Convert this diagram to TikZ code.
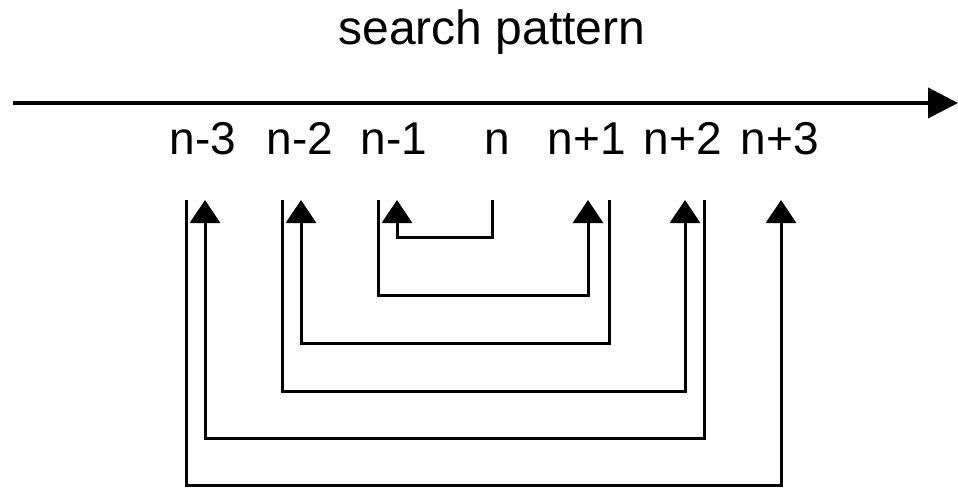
\documentclass[tikz,border=0pt]{standalone}
\usepackage{fontspec}
\setmainfont{Liberation Sans}
\usetikzlibrary{arrows.meta}
\begin{document}
\begin{tikzpicture}[x=1pt,y=-1pt,
  lbl/.style={anchor=base,inner sep=0pt,font=\fontsize{46}{55}\selectfont},
  ttl/.style={anchor=base,inner sep=0pt,font=\fontsize{48}{58}\selectfont},
  axis/.style={line width=4pt,-{Triangle[length=30pt,width=30pt]}},
  brk/.style={line width=3pt,line join=miter,-{Triangle[length=23pt,width=30pt]}}]
\useasboundingbox (0,0) rectangle (958,489);
% title and axis
\node[ttl] (title) at (492,45) {search pattern};
\coordinate (axL) at (13,103);
\coordinate (axR) at (958,103);
\draw[axis] (axL) -- (axR);
% labels
\node[lbl] (m3) at (203,155) {n-3};
\node[lbl] (m2) at (300,155) {n-2};
\node[lbl] (m1) at (394,155) {n-1};
\node[lbl] (n0) at (497,155) {n};
\node[lbl] (p1) at (587,155) {n+1};
\node[lbl] (p2) at (683,155) {n+2};
\node[lbl] (p3) at (780,155) {n+3};
% bracket start (plain lines) and end (arrow tips)
\coordinate (s0) at (492,200);
\coordinate (sm1) at (378,200);
\coordinate (sp1) at (609,200);
\coordinate (sm2) at (282,200);
\coordinate (sp2) at (704,200);
\coordinate (sm3) at (186,200);
\coordinate (em1) at (397,200);
\coordinate (ep1) at (588,200);
\coordinate (em2) at (301,200);
\coordinate (ep2) at (685,200);
\coordinate (em3) at (205,200);
\coordinate (ep3) at (781,200);
% brackets
\draw[brk] (s0) -- ++(0,37) -| (em1);
\draw[brk] (sm1) -- ++(0,95) -| (ep1);
\draw[brk] (sp1) -- ++(0,143) -| (em2);
\draw[brk] (sm2) -- ++(0,191) -| (ep2);
\draw[brk] (sp2) -- ++(0,238) -| (em3);
\draw[brk] (sm3) -- ++(0,285) -| (ep3);
\end{tikzpicture}
\end{document}
